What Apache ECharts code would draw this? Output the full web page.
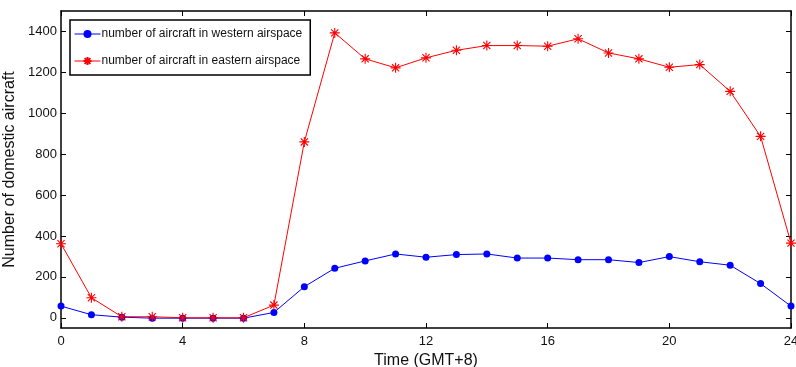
<!DOCTYPE html>
<html>
<head>
<meta charset="utf-8">
<script src="https://cdn.jsdelivr.net/npm/echarts@6/dist/echarts.min.js"></script>
<style>
  html, body { margin: 0; padding: 0; background: #fff; }
  #chart { width: 796px; height: 367px; }
</style>
</head>
<body>
<div id="chart"></div>
<script>
// hours of the day (GMT+8)
const hours = [0, 1, 2, 3, 4, 5, 6, 7, 8, 9, 10, 11, 12, 13, 14, 15, 16, 17, 18, 19, 20, 21, 22, 23, 24];
const western = [57, 15, 3, -2, -2, -2, -2, 26, 152, 242, 278, 312, 296, 309, 312, 292, 292, 284, 284, 270, 299, 274, 257, 167, 57];
const eastern = [362, 98, 5, 5, 0, 0, 0, 62, 860, 1393, 1266, 1222, 1271, 1308, 1331, 1331, 1328, 1364, 1295, 1266, 1225, 1238, 1107, 887, 365];
const xTicks = [0, 4, 8, 12, 16, 20, 24];
const yTicks = [0, 200, 400, 600, 800, 1000, 1200, 1400];
const seriesNames = ["number of aircraft in western airspace", "number of aircraft in eastern airspace"];

const chart = echarts.init(document.getElementById("chart"));

const font = "Liberation Sans, Arial, sans-serif";
// asterisk marker like matlab's '*'
const star = "path://M0,-5L0,5M-5,0L5,0M-3.6,-3.6L3.6,3.6M-3.6,3.6L3.6,-3.6";

function frameAxis(extra) {
  return Object.assign({
    type: "value",
    axisLine: { show: true, onZero: false, lineStyle: { color: "#000", width: 1.5 } },
    splitLine: { show: false },
  }, extra);
}
function ticks(values) {
  return { show: true, inside: true, length: 5, lineStyle: { color: "#000" }, customValues: values };
}

const option = {
  animation: false,
  grid: { left: 61, right: 5, top: 11, bottom: 39, containLabel: false, outerBoundsMode: "none" },
  legend: {
    orient: "vertical",
    left: 70,
    top: 20,
    padding: [8, 8, 8, 4],
    itemGap: 15,
    itemWidth: 26,
    itemHeight: 10,
    borderColor: "#000",
    borderWidth: 1.5,
    backgroundColor: "#fff",
    lineStyle: { width: 1 },
    textStyle: { fontFamily: font, fontSize: 12, color: "#111", padding: [0, 0, 0, -4] },
    data: seriesNames,
  },
  xAxis: [
    frameAxis({
      min: 0,
      max: 24,
      name: "Time (GMT+8)",
      nameLocation: "middle",
      nameGap: 22,
      nameTextStyle: { fontFamily: font, fontSize: 16, color: "#111" },
      axisLabel: { fontFamily: font, fontSize: 13, color: "#111", margin: 7, customValues: xTicks },
      axisTick: ticks(xTicks),
    }),
    frameAxis({
      position: "top", min: 0, max: 24,
      axisLabel: { show: false },
      axisTick: ticks(xTicks),
    }),
  ],
  yAxis: [
    frameAxis({
      min: -50,
      max: 1500,
      name: "Number of domestic aircraft",
      nameLocation: "middle",
      nameGap: 34,
      nameTextStyle: { fontFamily: font, fontSize: 16, color: "#111" },
      axisLabel: { fontFamily: font, fontSize: 13, color: "#111", margin: 4,
        customValues: yTicks, formatter: (v) => String(v) },
      axisTick: ticks(yTicks),
    }),
    frameAxis({
      position: "right", min: -50, max: 1500,
      axisLabel: { show: false },
      axisTick: ticks(yTicks),
    }),
  ],
  series: [
    {
      name: seriesNames[0],
      type: "line",
      data: hours.map((h, i) => [h, western[i]]),
      symbol: "circle",
      symbolSize: 7,
      showAllSymbol: true,
      lineStyle: { color: "#0000ff", width: 1 },
      itemStyle: { color: "#0000ff" },
    },
    {
      name: seriesNames[1],
      type: "line",
      data: hours.map((h, i) => [h, eastern[i]]),
      symbol: star,
      symbolSize: 10,
      showAllSymbol: true,
      lineStyle: { color: "#ff0000", width: 1 },
      itemStyle: { color: "#ff0000", borderColor: "#ff0000", borderWidth: 1.1 },
    },
  ],
};

chart.setOption(option);
</script>
</body>
</html>
